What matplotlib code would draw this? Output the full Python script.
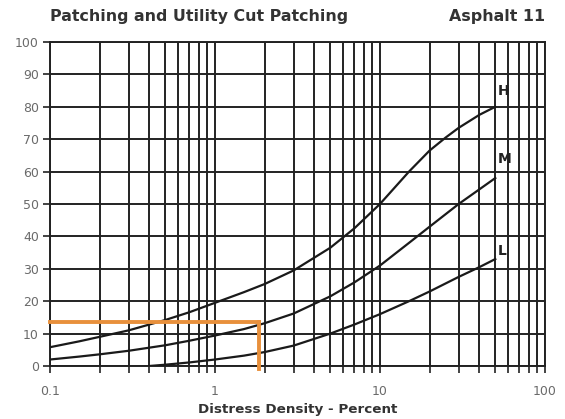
import matplotlib
matplotlib.use('Agg')
import matplotlib.pyplot as plt
from matplotlib.ticker import LogLocator, NullFormatter, FixedLocator

# density (%) vs deduct value
x_h = [0.1, 0.15, 0.2, 0.3, 0.5, 0.7, 1, 1.5, 2, 3, 5, 7, 10, 15, 20, 25, 30, 40, 50]
y_h = [5.8, 7.6, 9.0, 11.0, 14.2, 16.6, 19.5, 22.8, 25.3, 29.5, 36.5, 42.5, 50.0, 60.0, 66.5, 70.5, 73.5, 77.5, 80.0]
x_m = [0.1, 0.15, 0.2, 0.3, 0.5, 0.7, 1, 1.5, 2, 3, 5, 7, 10, 15, 20, 30, 40, 50]
y_m = [2.0, 2.9, 3.6, 4.7, 6.4, 7.8, 9.4, 11.4, 13.2, 16.2, 21.5, 25.8, 31.0, 38.0, 43.0, 50.0, 54.5, 58.0]
x_l = [0.4, 0.5, 0.7, 1, 1.5, 2, 3, 5, 7, 10, 15, 20, 30, 40, 50]
y_l = [0.0, 0.4, 1.1, 2.0, 3.2, 4.3, 6.3, 10.0, 12.8, 16.0, 20.0, 23.0, 27.5, 30.5, 33.0]
curve_names = ['H', 'M', 'L']
label_y = [85, 64, 35.5]

# example reading (orange)
ex_density = 1.85
ex_deduct = 13.5

fig = plt.figure(figsize=(5.65, 4.19), dpi=100)
ax = fig.add_axes([0.0885, 0.1265, 0.876, 0.7733])

ax.set_xscale('log')
ax.set_xlim(0.1, 100)
ax.set_ylim(0, 100)

ax.xaxis.set_major_locator(FixedLocator([0.1, 1, 10, 100]))
ax.set_xticklabels(['0.1', '1', '10', '100'])
ax.xaxis.set_minor_locator(LogLocator(base=10, subs=range(2, 10)))
ax.xaxis.set_minor_formatter(NullFormatter())
ax.set_yticks(range(0, 101, 10))

ax.grid(True, which='both', color='#222222', lw=1.4)
ax.set_axisbelow(True)
for s in ax.spines.values():
    s.set_color('#222222')
    s.set_linewidth(1.4)
ax.tick_params(which='both', direction='out', length=5, width=1.2, color='#222222',
               labelsize=9, labelcolor='#6a6a6a')
ax.tick_params(axis='x', pad=9)
ax.tick_params(axis='y', pad=3)

for xs, ys in [(x_h, y_h), (x_m, y_m), (x_l, y_l)]:
    ax.plot(xs, ys, color='#1a1a1a', lw=1.6, zorder=3)
for name, ly in zip(curve_names, label_y):
    ax.text(52, ly, name, fontsize=10, fontweight='bold', ha='left', va='center', color='#222222')

ax.plot([0.1, ex_density], [ex_deduct, ex_deduct], color='#e8903c', lw=2.8, zorder=4, clip_on=False)
ax.plot([ex_density, ex_density], [ex_deduct, -1], color='#e8903c', lw=2.8, zorder=4, clip_on=False)

ax.set_xlabel('Distress Density - Percent', fontsize=9.7, fontweight='bold', color='#333333', labelpad=3)
ax.set_title('Patching and Utility Cut Patching', loc='left', fontsize=11.4, fontweight='bold', color='#333333', pad=15)
ax.set_title('Asphalt 11', loc='right', fontsize=11.4, fontweight='bold', color='#333333', pad=15)

fig.savefig('out.png', dpi=100)
